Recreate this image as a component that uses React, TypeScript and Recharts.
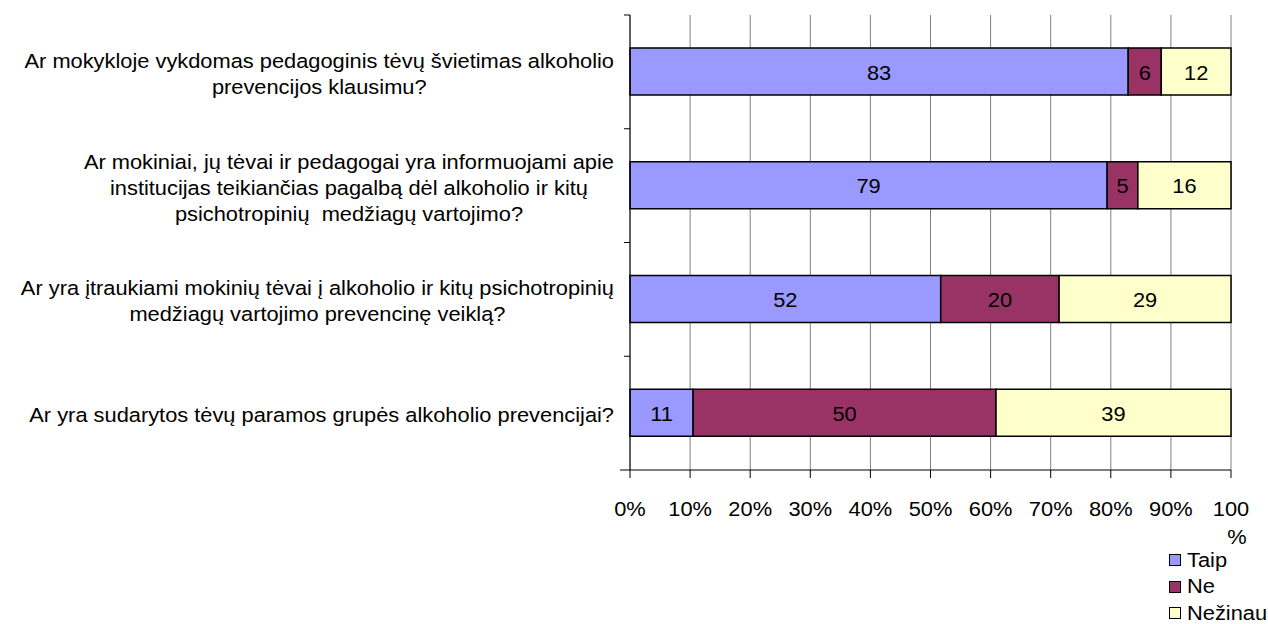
import { useLayoutEffect, useRef, useState } from "react"
import { BarChart, Bar, XAxis, YAxis, CartesianGrid, Legend, LabelList } from "recharts"

const questions = [
  "Ar mokykloje vykdomas pedagoginis tėvų švietimas alkoholio prevencijos klausimu?",
  "Ar mokiniai, jų tėvai ir pedagogai yra informuojami apie institucijas teikiančias pagalbą dėl alkoholio ir kitų psichotropinių  medžiagų vartojimo?",
  "Ar yra įtraukiami mokinių tėvai į alkoholio ir kitų psichotropinių medžiagų vartojimo prevencinę veiklą?",
  "Ar yra sudarytos tėvų paramos grupės alkoholio prevencijai?",
]

// same labels, broken into lines as in the original
const questionLines = [
  ["Ar mokykloje vykdomas pedagoginis tėvų švietimas alkoholio", "prevencijos klausimu?"],
  [
    "Ar mokiniai, jų tėvai ir pedagogai yra informuojami apie",
    "institucijas teikiančias pagalbą dėl alkoholio ir kitų",
    "psichotropinių  medžiagų vartojimo?",
  ],
  ["Ar yra įtraukiami mokinių tėvai į alkoholio ir kitų psichotropinių", "medžiagų vartojimo prevencinę veiklą?"],
  ["Ar yra sudarytos tėvų paramos grupės alkoholio prevencijai?"],
]

const seriesNames = ["Taip", "Ne", "Nežinau"]
const taip = [82.9, 79.4, 51.7, 10.5]
const ne = [5.5, 5.1, 19.7, 50.4]
const nezinau = [11.6, 15.5, 28.6, 39.1]

const percentTicks = [0, 0.1, 0.2, 0.3, 0.4, 0.5, 0.6, 0.7, 0.8, 0.9, 1]
const percentLabels = ["0%", "10%", "20%", "30%", "40%", "50%", "60%", "70%", "80%", "90%", "100%"]

const data = questions.map((q, i) => ({ q, taip: taip[i], ne: ne[i], nezinau: nezinau[i] }))

const FONT = "'Liberation Sans', Arial, sans-serif"
const FS = 19.5
const SX = 1.12 // the original text is a bit wider than Arial

function Wide(props: any) {
  const { x, y, anchor = "middle", children, baseline } = props
  return (
    <text
      transform={`translate(${x},${y}) scale(${SX},1)`}
      x={0}
      y={0}
      textAnchor={anchor}
      dominantBaseline={baseline}
      fontSize={FS}
      fontFamily={FONT}
      fill="#000"
      style={{ whiteSpace: "pre" }}
    >
      {children}
    </text>
  )
}

function QuestionTick(props: any) {
  const { x, y, payload } = props
  const idx = questions.indexOf(payload.value)
  const lines = questionLines[idx] ?? [String(payload.value)]
  const refs = useRef<(SVGTextElement | null)[]>([])
  const [center, setCenter] = useState<number | null>(null)

  useLayoutEffect(() => {
    const w = SX * Math.max(...refs.current.map((t) => (t ? t.getComputedTextLength() : 0)))
    const c = x - 16 - w / 2
    if (center === null || Math.abs(c - center) > 0.5) setCenter(c)
  })

  const half = payload.offset > 0 ? payload.offset : 113.75 / 2
  const lineH = 26
  const top = y + 2 - ((lines.length - 1) * lineH) / 2
  const cx = center ?? x - 300

  return (
    <g>
      <line x1={x - 6} x2={x} y1={y - half} y2={y - half} stroke="#000" />
      {idx === questions.length - 1 && <line x1={x - 10} x2={x} y1={y + half} y2={y + half} stroke="#000" />}
      {lines.map((l, i) => (
        <text
          key={i}
          ref={(el) => {
            refs.current[i] = el
          }}
          transform={`translate(${cx},${top + i * lineH}) scale(${SX},1)`}
          textAnchor="middle"
          dominantBaseline="central"
          fontSize={FS}
          fontFamily={FONT}
          fill="#000"
          style={{ whiteSpace: "pre" }}
        >
          {l}
        </text>
      ))}
    </g>
  )
}

function PercentTick(props: any) {
  const { x, payload } = props
  const idx = percentTicks.indexOf(payload.value)
  const label = percentLabels[idx] ?? ""
  // "100%" does not fit and wraps in the original
  const parts = label === "100%" ? ["100", "%"] : [label]
  return (
    <g>
      {parts.map((p, i) => (
        <Wide key={i} x={x + (i === 1 ? 6 : 0)} y={516 + i * 28}>
          {p}
        </Wide>
      ))}
    </g>
  )
}

function BarValue(props: any) {
  const { x, y, width, height, value } = props
  return (
    <Wide x={x + width / 2} y={y + height / 2 + 1} baseline="central">
      {Math.round(Number(value))}
    </Wide>
  )
}

function LegendList(props: any) {
  const items = [...(props.payload || [])].sort(
    (a: any, b: any) => seriesNames.indexOf(a.value) - seriesNames.indexOf(b.value)
  )
  return (
    <div style={{ fontFamily: FONT, fontSize: FS, color: "#000" }}>
      {items.map((p: any) => (
        <div key={p.value} style={{ display: "flex", alignItems: "center", height: 26.5 }}>
          <span style={{ width: 10, height: 10, background: p.color, border: "1px solid #000", marginRight: 6 }} />
          <span style={{ display: "inline-block", transform: `scaleX(${SX})`, transformOrigin: "left center" }}>{p.value}</span>
        </div>
      ))}
    </div>
  )
}

export default function App() {
  return (
    <div style={{ position: "absolute", left: 0, top: 0, width: 1268, height: 624, background: "#fff" }}>
      <BarChart
        width={1268}
        height={624}
        data={data}
        layout="vertical"
        stackOffset="expand"
        margin={{ top: 15, right: 37, bottom: 0, left: 0 }}
        style={{ fontFamily: FONT }}
      >
        <CartesianGrid horizontal={false} stroke="#808080" />
        <XAxis
          type="number"
          domain={[0, 1]}
          ticks={percentTicks}
          height={154}
          tickSize={8}
          axisLine={{ stroke: "#000" }}
          tickLine={{ stroke: "#000" }}
          tick={<PercentTick />}
          interval={0}
        />
        <YAxis
          type="category"
          dataKey="q"
          width={630}
          tickSize={0}
          tickMargin={0}
          axisLine={{ stroke: "#000" }}
          tickLine={false}
          tick={<QuestionTick />}
          interval={0}
        />
        <Legend
          content={<LegendList />}
          wrapperStyle={{ position: "absolute", left: 1169, top: 547, width: 100, height: 0 }}
        />
        <Bar dataKey="taip" name={seriesNames[0]} stackId="a" fill="#9999FF" stroke="#000" strokeWidth={1.5} barSize={47} isAnimationActive={false}>
          <LabelList dataKey="taip" content={<BarValue />} />
        </Bar>
        <Bar dataKey="ne" name={seriesNames[1]} stackId="a" fill="#993366" stroke="#000" strokeWidth={1.5} barSize={47} isAnimationActive={false}>
          <LabelList dataKey="ne" content={<BarValue />} />
        </Bar>
        <Bar dataKey="nezinau" name={seriesNames[2]} stackId="a" fill="#FFFFCC" stroke="#000" strokeWidth={1.5} barSize={47} isAnimationActive={false}>
          <LabelList dataKey="nezinau" content={<BarValue />} />
        </Bar>
      </BarChart>
    </div>
  )
}
